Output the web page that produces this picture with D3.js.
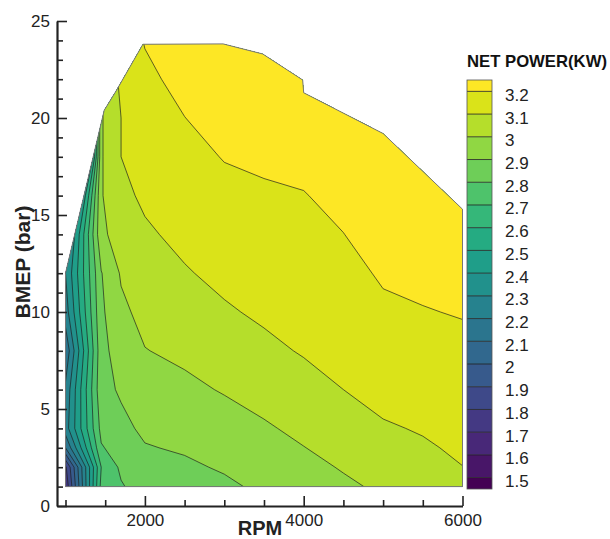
<!DOCTYPE html>
<html>
<head>
<meta charset="utf-8">
<script src="https://cdn.jsdelivr.net/npm/d3@7"></script>
<style>
  html, body { margin: 0; padding: 0; background: #fff; }
  #chart { width: 610px; height: 539px; }
  #chart svg { font-family: 'Liberation Sans', Arial, sans-serif; }
</style>
</head>
<body>
<div id="chart"></div>
<script>
// grid columns (RPM) and rows (BMEP, bar)
const rpmValues = [1000, 1450, 1700, 2000, 2500, 3000, 3500, 4000, 4500, 5000, 5500, 6000];
const bmepValues = [1, 2, 3, 4, 6, 8, 10, 12, 14, 16, 18, 20, 22, 24];

// net power (kW): one row per BMEP value, one entry per RPM column
const netPower = [
    [1.72, 2.73, 2.79, 2.85, 2.863, 2.884, 2.917, 2.951, 2.984, 3.015, 3.06, 3.085],
    [1.78, 2.70, 2.82, 2.87, 2.886, 2.909, 2.941, 2.974, 3.007, 3.041, 3.076, 3.099],
    [2.10, 2.79, 2.85, 2.895, 2.909, 2.934, 2.965, 2.998, 3.030, 3.067, 3.091, 3.112],
    [2.25, 2.83, 2.88, 2.915, 2.932, 2.958, 2.989, 3.021, 3.054, 3.092, 3.106, 3.125],
    [2.22, 2.875, 2.91, 2.956, 2.979, 3.007, 3.035, 3.067, 3.100, 3.125, 3.136, 3.152],
    [2.12, 2.868, 2.95, 2.997, 3.020, 3.048, 3.080, 3.107, 3.125, 3.155, 3.166, 3.179],
    [2.25, 2.882, 2.98, 3.028, 3.056, 3.090, 3.114, 3.129, 3.150, 3.185, 3.196, 3.205],
    [2.30, 2.895, 3.01, 3.058, 3.093, 3.121, 3.139, 3.152, 3.174, 3.21, 3.22, 3.23],
    [2.20, 2.981, 3.04, 3.088, 3.121, 3.149, 3.164, 3.174, 3.199, 3.23, 3.24, 3.25],
    [1.88, 2.992, 3.08, 3.114, 3.147, 3.176, 3.189, 3.197, 3.22, 3.25, 3.26, 3.27],
    [0.87, 2.99, 3.10, 3.137, 3.173, 3.204, 3.214, 3.22, 3.24, 3.27, 3.28, 3.29],
    [0.80, 2.99, 3.10, 3.159, 3.199, 3.232, 3.24, 3.24, 3.26, 3.29, 3.30, 3.31],
    [0.80, 3.00, 3.12, 3.182, 3.225, 3.26, 3.26, 3.26, 3.28, 3.31, 3.32, 3.33],
    [0.80, 3.00, 3.14, 3.205, 3.25, 3.288, 3.29, 3.28, 3.30, 3.33, 3.34, 3.35]
];

// outline of the measured operating area [rpm, bmep]
const mapOutline = [
    [1000, 1], [1000, 12], [1488, 20.4], [1644, 21.44], [1975, 23.8],
    [2985, 23.82], [3484, 23.3], [3987, 21.96], [4000, 21.3], [5000, 19.2],
    [6000, 15.3], [6000, 1]
];

const levels = [1.5, 1.6, 1.7, 1.8, 1.9, 2, 2.1, 2.2, 2.3, 2.4, 2.5, 2.6, 2.7, 2.8, 2.9, 3, 3.1, 3.2];
const levelLabels = ['1.5', '1.6', '1.7', '1.8', '1.9', '2', '2.1', '2.2', '2.3', '2.4', '2.5', '2.6', '2.7', '2.8', '2.9', '3', '3.1', '3.2'];
const rpmTicks = [2000, 4000, 6000];
const rpmMinorTicks = [1000, 1500, 2500, 3000, 3500, 4500, 5000, 5500];
const bmepTicks = [0, 5, 10, 15, 20, 25];
const bmepMinorTicks = d3.range(1, 25).filter(v => v % 5 !== 0);

class NetPowerMap {
    constructor(container) {
        this.container = container;
    }

    render() {
        const width = 610, height = 539;
        const svg = d3.select(this.container).append('svg')
            .attr('width', width)
            .attr('height', height);

        // --- 1. Scales ---
        const x = d3.scaleLinear().domain([893, 6000]).range([57, 462.5]);
        const y = d3.scaleLinear().domain([0, 25]).range([506, 21]);
        const nBands = levels.length + 1;
        const color = k => d3.interpolateViridis(k / (nBands - 1));

        // --- 2. Grid (padded by one repeated row/column so borders stay outside the map) ---
        const padRpm = [rpmValues[0] - 50, ...rpmValues, rpmValues[rpmValues.length - 1] + 50];
        const padBmep = [bmepValues[0] - 0.5, ...bmepValues, bmepValues[bmepValues.length - 1] + 0.5];
        const nx = padRpm.length, ny = padBmep.length;
        const grid = new Array(nx * ny);
        for (let j = 0; j < ny; j++) {
            const r = Math.max(0, Math.min(bmepValues.length - 1, j - 1));
            for (let i = 0; i < nx; i++) {
                const c = Math.max(0, Math.min(rpmValues.length - 1, i - 1));
                grid[j * nx + i] = netPower[r][c];
            }
        }
        const rpmAt = d3.scaleLinear().domain(d3.range(nx)).range(padRpm);
        const bmepAt = d3.scaleLinear().domain(d3.range(ny)).range(padBmep);
        const path = d3.geoPath(d3.geoTransform({
            point(px, py) {
                this.stream.point(x(rpmAt(px - 0.5)), y(bmepAt(py - 0.5)));
            }
        }));

        const bands = d3.contours().size([nx, ny]).thresholds(levels)(grid);

        // --- 3. Filled bands, clipped to the operating area ---
        const outlinePts = mapOutline.map(d => [x(d[0]), y(d[1])]);
        svg.append('clipPath').attr('id', 'map-clip')
            .append('polygon')
            .attr('points', outlinePts.map(p => p.join(',')).join(' '));

        const g = svg.append('g').attr('clip-path', 'url(#map-clip)');
        g.append('polygon')
            .attr('points', outlinePts.map(p => p.join(',')).join(' '))
            .attr('fill', color(0));

        g.selectAll('path.band')
            .data(bands)
            .join('path')
            .attr('class', 'band')
            .attr('d', path)
            .attr('fill', (d, i) => color(i + 1));

        g.selectAll('path.iso')
            .data(bands)
            .join('path')
            .attr('class', 'iso')
            .attr('d', path)
            .attr('fill', 'none')
            .attr('stroke', '#1e1e1e')
            .attr('stroke-width', 0.8)
            .attr('stroke-opacity', 0.85);

        svg.append('polygon')
            .attr('points', outlinePts.map(p => p.join(',')).join(' '))
            .attr('fill', 'none')
            .attr('stroke', '#777')
            .attr('stroke-width', 1);

        // --- 4. Axes ---
        const styleAxis = sel => {
            sel.selectAll('line').attr('stroke', '#222').attr('stroke-width', 1.6);
            sel.selectAll('text')
                .attr('fill', '#222')
                .style('font-size', '17px');
        };

        svg.append('g')
            .attr('transform', `translate(0,${y(0)})`)
            .call(d3.axisBottom(x).tickValues(rpmMinorTicks).tickSizeInner(-6).tickSizeOuter(0).tickFormat(''))
            .call(s => s.select('.domain').remove())
            .call(styleAxis);
        svg.append('g')
            .attr('transform', `translate(${x.range()[0]},0)`)
            .call(d3.axisLeft(y).tickValues(bmepMinorTicks).tickSizeInner(-6).tickSizeOuter(0).tickFormat(''))
            .call(s => s.select('.domain').remove())
            .call(styleAxis);

        const xAxis = svg.append('g')
            .attr('transform', `translate(0,${y(0)})`)
            .call(d3.axisBottom(x).tickValues(rpmTicks).tickSizeInner(-10).tickSizeOuter(0).tickPadding(8).tickFormat(d3.format('d')))
            .call(styleAxis);
        const yAxis = svg.append('g')
            .attr('transform', `translate(${x.range()[0]},0)`)
            .call(d3.axisLeft(y).tickValues(bmepTicks).tickSizeInner(-10).tickSizeOuter(0).tickPadding(7).tickFormat(d3.format('d')))
            .call(styleAxis);
        [xAxis, yAxis].forEach(a => a.select('.domain')
            .attr('stroke', '#222').attr('stroke-width', 2.2));

        svg.append('text')
            .attr('x', 260).attr('y', 535)
            .attr('text-anchor', 'middle')
            .attr('font-size', '20px').attr('font-weight', 700)
            .attr('fill', '#222')
            .text('RPM');
        svg.append('text')
            .attr('transform', 'translate(30,262) rotate(-90)')
            .attr('text-anchor', 'middle')
            .attr('font-size', '21px').attr('font-weight', 700)
            .attr('fill', '#222')
            .text('BMEP (bar)');

        // --- 5. Legend ---
        const ly = d3.scaleLinear().domain([1.45, 3.25]).range([489, 80]);
        const edges = [1.45, ...levels, 3.25];
        const legend = svg.append('g').attr('class', 'legend');
        legend.append('text')
            .attr('x', 467).attr('y', 67)
            .attr('font-size', '16.7px').attr('font-weight', 700)
            .attr('fill', '#111')
            .text('NET POWER(KW)');
        legend.selectAll('rect.swatch')
            .data(d3.range(nBands))
            .join('rect')
            .attr('class', 'swatch')
            .attr('x', 467)
            .attr('y', k => ly(edges[k + 1]))
            .attr('width', 25)
            .attr('height', k => ly(edges[k]) - ly(edges[k + 1]))
            .attr('fill', k => color(k));
        legend.selectAll('line.sep')
            .data(levels)
            .join('line')
            .attr('class', 'sep')
            .attr('x1', 467).attr('x2', 492)
            .attr('y1', d => ly(d)).attr('y2', d => ly(d))
            .attr('stroke', '#1e1e1e').attr('stroke-width', 0.8);
        legend.append('rect')
            .attr('x', 467).attr('y', ly(3.25))
            .attr('width', 25).attr('height', ly(1.45) - ly(3.25))
            .attr('fill', 'none').attr('stroke', '#555').attr('stroke-width', 0.8);
        legend.selectAll('text.lab')
            .data(levels)
            .join('text')
            .attr('class', 'lab')
            .attr('x', 505)
            .attr('y', d => ly(d) + 3.5)
            .attr('dy', '0.35em')
            .attr('font-size', '17px')
            .attr('fill', '#222')
            .text((d, i) => levelLabels[i]);
    }
}

new NetPowerMap(document.getElementById('chart')).render();
</script>
</body>
</html>
